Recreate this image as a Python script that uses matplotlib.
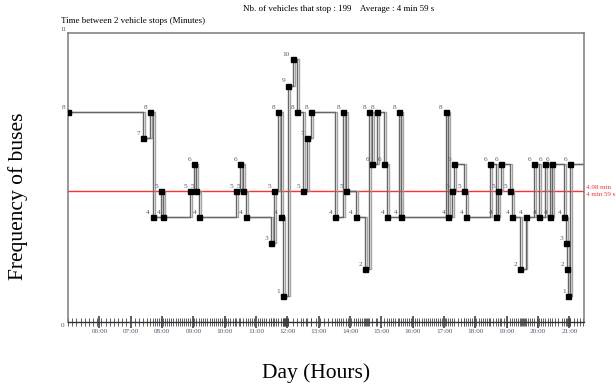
import numpy as np
import pandas as pd
import matplotlib
matplotlib.use("Agg")
import matplotlib.pyplot as plt
import matplotlib.patheffects as pe

plt.rcParams['font.family'] = ['Liberation Serif', 'DejaVu Serif']

# times where the gap between two stops changes, and the new gap (minutes)
change_times = ["05:00", "07:24", "07:37", "07:42", "07:58", "08:02", "08:54", "09:01",
                "09:06", "09:11", "10:22", "10:30", "10:35", "10:40", "11:29", "11:34",
                "11:43", "11:47", "11:52", "12:02", "12:10", "12:18", "12:30", "12:38",
                "12:46", "13:31", "13:47", "13:52", "14:11", "14:29", "14:37", "14:43",
                "14:52", "15:06", "15:11", "15:34", "15:37", "17:03", "17:08", "17:15",
                "17:20", "17:39", "17:42", "18:28", "18:39", "18:43", "18:49", "19:06",
                "19:10", "19:25", "19:36", "19:52", "20:02", "20:13", "20:23", "20:27",
                "20:50", "20:53", "20:56", "20:58", "21:02"]
gap_minutes = [8, 7, 8, 4, 5, 4, 5, 6,
               5, 4, 5, 6, 5, 4, 3, 5,
               8, 4, 1, 9, 10, 8, 5, 7,
               8, 4, 8, 5, 4, 2, 8, 6,
               8, 6, 4, 8, 4, 8, 4, 5,
               6, 5, 4, 6, 4, 5, 6, 5,
               4, 2, 4, 6, 4, 6, 4, 6,
               4, 3, 2, 1, 6]
day_end = "21:28"
hour_labels = ["06:00", "07:00", "08:00", "09:00", "10:00", "11:00", "12:00", "13:00",
               "14:00", "15:00", "16:00", "17:00", "18:00", "19:00", "20:00", "21:00"]
average_min = 4.98
n_vehicles = 199


def to_min(s):
    h, m = s.split(":")
    return int(h) * 60 + int(m)


t = np.array([to_min(s) for s in change_times])
v = np.array(gap_minutes)
t_end = to_min(day_end)

# stop times implied by the gaps inside each segment
bounds = np.append(t, t_end)
stops = np.concatenate([np.arange(bounds[i], bounds[i + 1], v[i]) for i in range(len(v))])

fig = plt.figure(figsize=(6.16, 3.85), dpi=100)
ax = fig.add_axes([68 / 616, 1 - 322 / 385, 516 / 616, 289 / 385])

line_col = "#666666"
lab_col = "#55557a"
red = "#ff3030"

ax.plot(np.append(t, t_end), np.append(v, v[-1]), drawstyle="steps-post",
        color=line_col, lw=1.0,
        path_effects=[pe.SimpleLineShadow(offset=(1.4, 0), shadow_color="#9a9a9a", alpha=0.9),
                      pe.Normal()], zorder=2)
ax.plot(t, v, "s", color="black", ms=3.6, zorder=3)
for x, y in zip(t, v):
    ax.annotate(str(y), (x, y), xytext=(-2, 1.5), textcoords="offset points",
                ha="right", va="bottom", fontsize=5.2, color=lab_col)

ax.axhline(average_min, color=red, lw=1.0, zorder=1)
ax.text(1.004, average_min + 0.05, "4.98 min", transform=ax.get_yaxis_transform(),
        color=red, fontsize=5, va="bottom", ha="left")
ax.text(1.004, average_min - 0.05, "4 min 59 s", transform=ax.get_yaxis_transform(),
        color=red, fontsize=5, va="top", ha="left")

ax.set_xlim(t[0], t_end)
ax.set_ylim(0, 11)

ax.set_xticks([to_min(s) for s in hour_labels])
ax.set_xticklabels(hour_labels, fontsize=5.2, color=lab_col)
ax.set_xticks(stops, minor=True)
ax.tick_params(axis="x", which="major", direction="inout", length=9, width=1.1,
               color="#333333", pad=0.5)
ax.tick_params(axis="x", which="minor", direction="inout", length=6, width=0.6,
               color="#444444")
ax.set_yticks([])

for side in ["left", "top", "right"]:
    ax.spines[side].set_color("#7a7a7a")
    ax.spines[side].set_linewidth(1.1)
ax.spines["bottom"].set_color("#333333")
ax.spines["bottom"].set_linewidth(1.0)

ax.text(-0.003, 1.005, "11", transform=ax.transAxes, fontsize=4.5, color=lab_col,
        ha="right", va="bottom")
ax.text(-0.008, -0.012, "0", transform=ax.transAxes, fontsize=5, color=lab_col,
        ha="right", va="center")

ax.text(-0.014, 1.042, "Time between 2 vehicle stops (Minutes)", transform=ax.transAxes,
        fontsize=6.5, ha="left", va="center")
fig.text(0.55, 0.977, "Nb. of vehicles that stop : %d    Average : 4 min 59 s" % n_vehicles,
         fontsize=6.5, ha="center", va="center")

fig.text(0.513, 1 - 373 / 385, "Day (Hours)", fontsize=15.5, ha="center", va="center")
fig.text(0.03, 0.49, "Frequency of buses", fontsize=15.5, rotation=90,
         ha="center", va="center")

fig.savefig("out.png", dpi=100)
